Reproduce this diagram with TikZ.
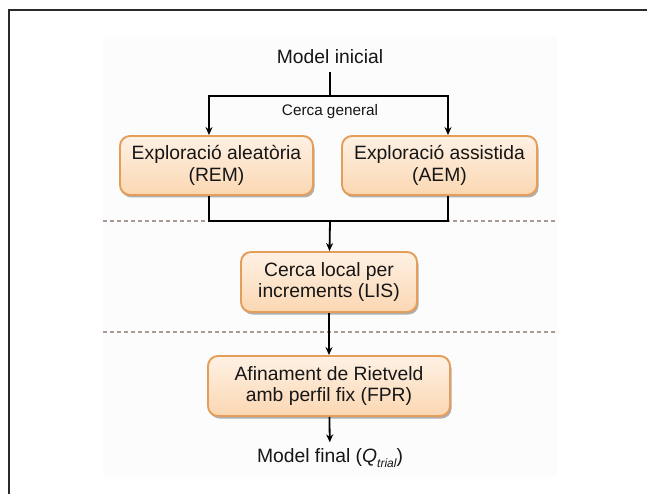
\documentclass[tikz,border=0pt]{standalone}
\usepackage{fontspec}
\setmainfont{Liberation Sans}
\usetikzlibrary{arrows.meta,shadows}
\definecolor{boxborder}{HTML}{E59D5A}
\definecolor{boxtop}{HTML}{FEF1E4}
\definecolor{boxbot}{HTML}{FBD7B2}
\definecolor{dashcol}{HTML}{A99A93}
\definecolor{framecol}{HTML}{2A2A2A}
\definecolor{panel}{HTML}{FCFCFC}
\definecolor{txt}{HTML}{161616}
\tikzset{
  procbox/.style={draw=boxborder, line width=1.9pt, rounded corners=10pt,
    top color=boxtop, bottom color=boxbot, align=center, inner sep=0pt,
    text=txt, font=\fontsize{19.3}{21.5}\selectfont,
    drop shadow={shadow xshift=1.5pt, shadow yshift=-2.5pt, fill=black, opacity=0.3}},
  conn/.style={line width=1.8pt, draw=black},
  arr/.style={conn, -{Stealth[length=8pt,width=7pt]}},
  sep/.style={draw=dashcol, line width=1.6pt, dash pattern=on 4pt off 3pt},
  label/.style={text=txt, inner xsep=0pt}
}
\begin{document}
\begin{tikzpicture}[x=1pt,y=-1pt]
\useasboundingbox (0,0) rectangle (647,494);
% faint panel
\fill[panel] (103,37) rectangle (557,477);
% frame (top and left edges)
\draw[framecol, line width=1.8pt] (9,494) -- (9,10) -- (647,10);
% separators
\draw[sep] (103,221) -- (557,221);
\draw[sep] (103,332) -- (557,332);
% nodes
\node[label, font=\fontsize{19.3}{21}\selectfont, inner ysep=8pt] (mi) at (330,57) {Model inicial};
\node[label, font=\fontsize{15.3}{17}\selectfont, inner ysep=0pt] (cg) at (330,112) {Cerca general};
\node[procbox, minimum width=193pt, minimum height=59pt] (rem) at (216.5,165.5) {Exploració aleatòria\\(REM)};
\node[procbox, minimum width=195pt, minimum height=59pt] (aem) at (439.5,165.5) {Exploració assistida\\(AEM)};
\node[procbox, minimum width=176pt, minimum height=60pt] (lis) at (329,282) {Cerca local per\\increments (LIS)};
\node[procbox, minimum width=242pt, minimum height=60pt] (fpr) at (329,386) {Afinament de Rietveld\\amb perfil fix (FPR)};
\node[label, font=\fontsize{19.3}{21}\selectfont, inner ysep=6pt] (mf) at (330,458) {Model final ({\itshape Q}\raisebox{-0.25em}{\fontsize{12}{12}\selectfont\itshape trial})};
% connectors
\coordinate (split) at (330,96);
\coordinate (merge) at (330,221);
\coordinate (remin) at ([xshift=-7.5pt]rem.north);
\coordinate (aemin) at ([xshift=8.5pt]aem.north);
\coordinate (remout) at ([xshift=-7.5pt]rem.south);
\coordinate (aemout) at ([xshift=8.5pt]aem.south);
\draw[conn] (mi) -- (split);
\draw[arr] (split) -| (remin);
\draw[arr] (split) -| (aemin);
\draw[conn] (remout) |- (merge) -| (aemout);
\draw[arr] (merge) -- (lis);
\draw[arr] (lis) -- (fpr);
\draw[arr] (fpr) -- (mf);
\end{tikzpicture}
\end{document}
